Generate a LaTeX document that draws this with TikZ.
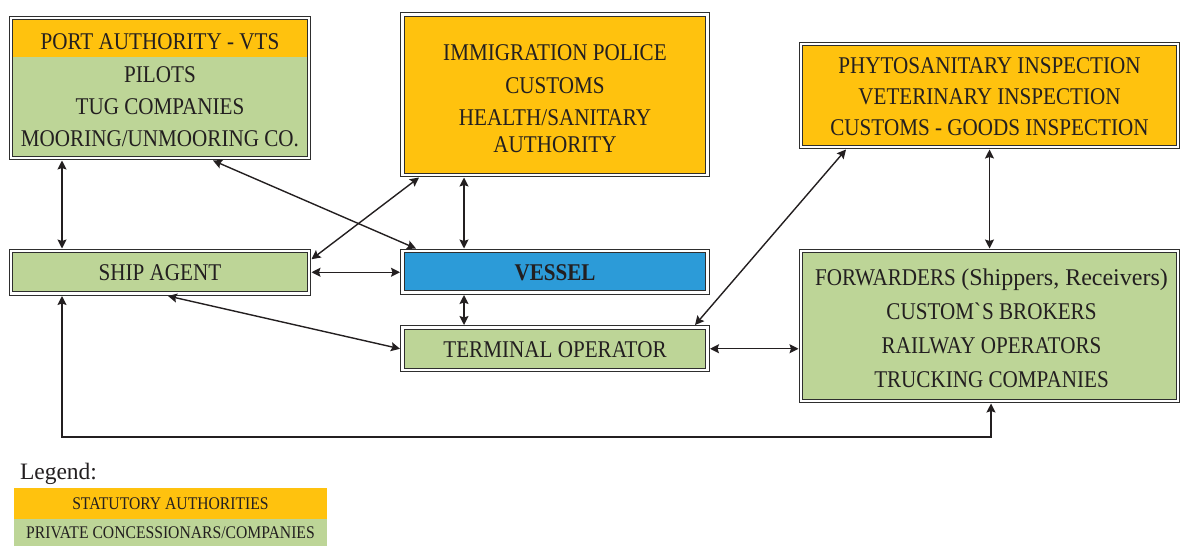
\documentclass[tikz,border=0pt]{standalone}
\usepackage{fontspec}
\setmainfont{Liberation Serif}[FakeStretch=0.88]
\newfontfamily\widefont{Liberation Serif}
\usetikzlibrary{arrows.meta,calc}
\definecolor{stat}{HTML}{FFC20E}
\definecolor{priv}{HTML}{BDD597}
\definecolor{vblue}{HTML}{2C9BD8}
\definecolor{ink}{HTML}{231F20}
\definecolor{frame}{HTML}{2E2E2E}
\begin{document}
\begin{tikzpicture}[x=1pt,y=-1pt,
  box/.style={draw=frame, line width=1.1pt, double=white, double distance=2.6pt,
    inner sep=0pt, outer sep=2.5pt, text=ink, align=center,
    font=\fontsize{24}{32}\selectfont},
  txt/.style={text=ink, align=center, inner sep=0pt, outer sep=0pt},
  arr/.style={draw=ink, line width=1.4pt,
    {Stealth[length=9pt,width=9pt,inset=1.5pt]}-{Stealth[length=9pt,width=9pt,inset=1.5pt]}},
  leg/.style={inner sep=0pt, outer sep=0pt, text=ink, minimum width=313pt,
    font=\fontsize{17.8}{20}\selectfont},
]
\useasboundingbox (0,0) rectangle (1180,546);

% Port authority / pilots box
\node[box, fill=priv, minimum width=298pt, minimum height=140pt,
  path picture={\fill[stat] (path picture bounding box.north west) rectangle
     ([yshift=-39pt]path picture bounding box.north east);},
  label={[txt, name=pat, yshift=-2.5pt, font=\fontsize{24}{32.3}\selectfont]center:{PORT AUTHORITY - VTS\\PILOTS\\TUG COMPANIES\\MOORING/UNMOORING CO.}}]
  (pa) at (160,88) {};

% Immigration box
\node[box, fill=stat, minimum width=305pt, minimum height=160.5pt,
  label={[txt, name=imt, yshift=-4.25pt, font=\fontsize{24}{32}\selectfont]center:{IMMIGRATION POLICE\\[1pt]CUSTOMS\\HEALTH/SANITARY\\[-5pt]AUTHORITY}}]
  (im) at (555,94.75) {};

% Phytosanitary box
\node[box, fill=stat, minimum width=377pt, minimum height=103pt,
  label={[txt, name=pht, yshift=-1.5pt, font=\fontsize{24}{31}\selectfont]center:{PHYTOSANITARY INSPECTION\\VETERINARY INSPECTION\\CUSTOMS - GOODS INSPECTION}}]
  (ph) at (989.5,95.5) {};

% Ship agent
\node[box, fill=priv, minimum width=298pt, minimum height=42.5pt] (sa) at (160,272.25) {SHIP AGENT};

% Vessel
\node[box, fill=vblue, minimum width=305pt, minimum height=41.5pt,
  label={[txt, name=vet, yshift=-1.25pt, font=\fontsize{24}{32}\selectfont\bfseries]center:VESSEL}] (ve) at (555,271.75) {};

% Terminal operator
\node[box, fill=priv, minimum width=305pt, minimum height=42.5pt,
  label={[txt, name=tot, yshift=-1.25pt, font=\fontsize{24}{32}\selectfont]center:TERMINAL OPERATOR}] (to) at (555,348.75) {};

% Forwarders
\node[box, fill=priv, minimum width=377pt, minimum height=150pt,
  label={[txt, name=fwt, yshift=-2pt, xshift=2pt, font=\fontsize{24}{34}\selectfont]center:{FORWARDERS {\widefont(Shippers, Receivers)}\\CUSTOM\textasciigrave S BROKERS\\RAILWAY OPERATORS\\TRUCKING COMPANIES}}]
  (fw) at (989.5,326) {};

% Connectors
\draw[arr] ([xshift=-98pt]pa.south) -- ([xshift=-98pt]sa.north);
\draw[arr] ([xshift=53pt]pa.south) -- ([xshift=-139pt]ve.north);
\draw[arr] ([yshift=13pt]sa.east) -- ([xshift=-136pt]im.south);
\draw[arr] ([xshift=-91pt]im.south) -- ([xshift=-91pt]ve.north);
\draw[arr] (sa.east) -- (sa.east -| ve.west);
\draw[arr] ([xshift=-91pt]ve.south) -- ([xshift=-91pt]to.north);
\draw[arr] ([xshift=8pt]sa.south) -- (to.west);
\draw[arr] ([xshift=140pt]to.north) -- ([xshift=-143.5pt]ph.south);
\draw[arr] (ph.south) -- (fw.south |- fw.north);
\draw[arr] (to.east) -- (to.east -| fw.west);
\coordinate (low) at (0,437);
\draw[arr] ([xshift=-98pt]sa.south) -- ([xshift=-98pt]sa.south |- low) -| ([xshift=1.5pt]fw.south);

% Legend
\node[txt, anchor=base west, font=\widefont\fontsize{23.5}{26}\selectfont] (legt) at (20,479) {Legend:};
\node[leg, fill=stat, minimum height=31pt] (lgs) at (170.5,503.5) {STATUTORY AUTHORITIES};
\node[leg, fill=priv, minimum height=27pt] (lgp) at (170.5,532.5) {PRIVATE CONCESSIONARS/COMPANIES};
\end{tikzpicture}
\end{document}
